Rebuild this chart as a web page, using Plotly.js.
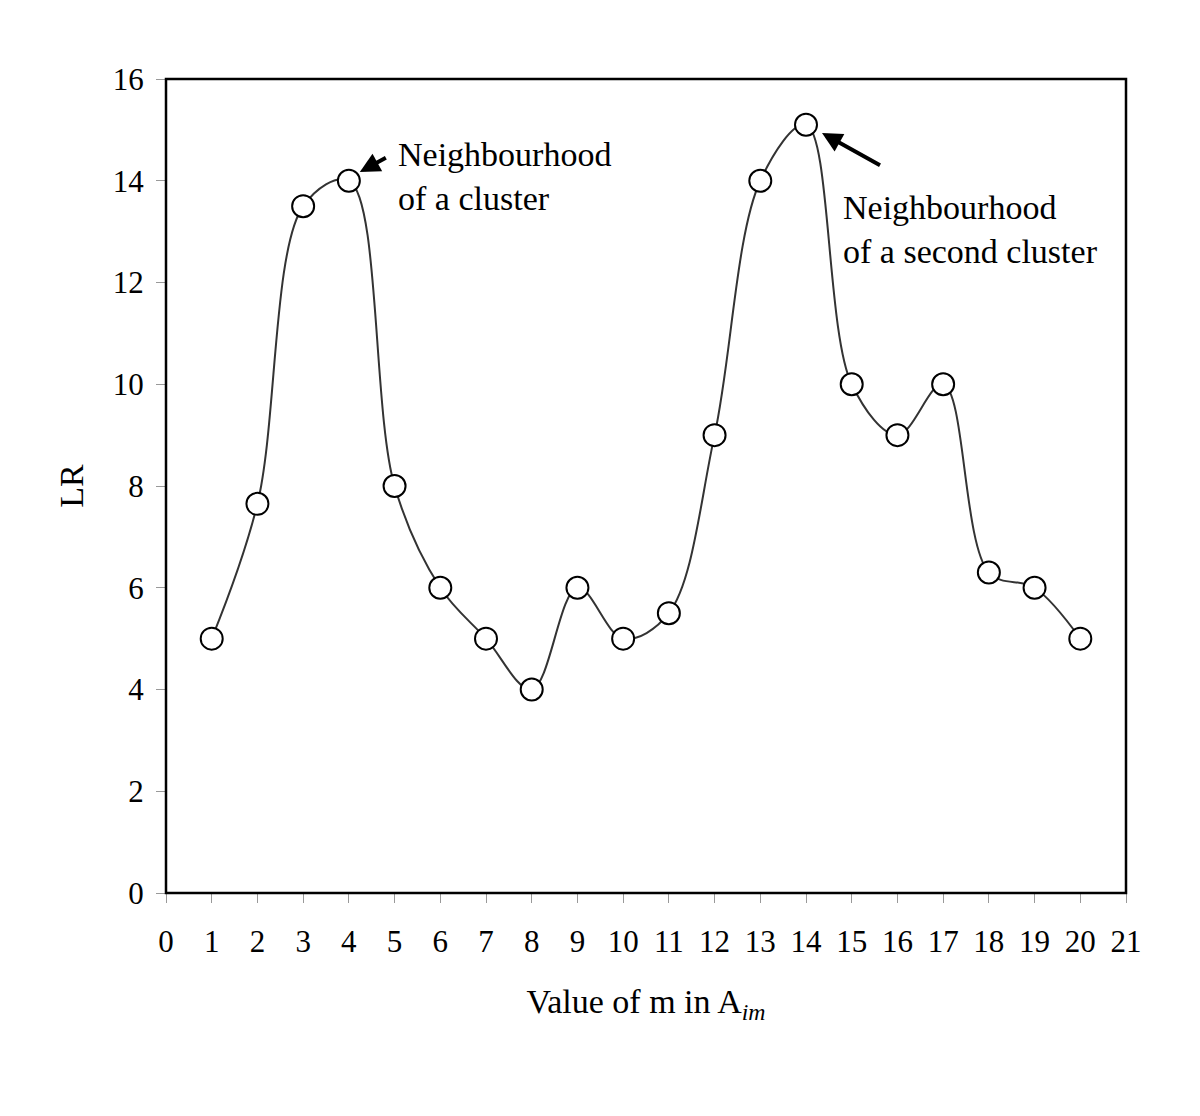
<!DOCTYPE html>
<html>
<head>
<meta charset="utf-8">
<script src="https://cdn.plot.ly/plotly-3.0.1.min.js"></script>
<style>
	html, body { margin: 0; padding: 0; background: #fff; }
	#chart { width: 1200px; height: 1116px; }
</style>
</head>
<body>
<div id="chart"></div>
<script>
(function () {

	'use strict';

	// values of m and the LR
	const mValues = [1, 2, 3, 4, 5, 6, 7, 8, 9, 10, 11, 12, 13, 14, 15, 16, 17, 18, 19, 20];
	const lrValues = [5, 7.65, 13.5, 14, 8, 6, 5, 4, 6, 5, 5.5, 9, 14, 15.1, 10, 9, 10, 6.3, 6, 5];

	const noteFirst = 'Neighbourhood<br>of a cluster';
	const noteSecond = 'Neighbourhood<br>of a second cluster';

	const serif = '"Liberation Serif", "Times New Roman", serif';

	const data = [{
		x: mValues,
		y: lrValues,
		type: 'scatter',
		mode: 'lines+markers',
		line: { shape: 'spline', smoothing: 1, color: '#333', width: 2 },
		marker: { symbol: 'circle', size: 22, color: '#fff', line: { color: '#000', width: 2 } },
		hoverinfo: 'x+y'
	}];

	const axisBase = {
		showgrid: false,
		zeroline: false,
		showline: false,
		ticks: 'outside',
		ticklen: 9,
		tickwidth: 1,
		tickcolor: '#999',
		tickfont: { family: serif, size: 31, color: '#000' },
		fixedrange: true
	};

	const layout = {
		width: 1200,
		height: 1116,
		paper_bgcolor: '#fff',
		plot_bgcolor: '#fff',
		showlegend: false,
		margin: { l: 166, r: 74, t: 79, b: 223 },
		font: { family: serif, color: '#000' },
		xaxis: Object.assign({}, axisBase, {
			range: [0, 21],
			dtick: 1,
			tick0: 0,
			ticklabelstandoff: 12,
			title: { text: 'Value of m in A<sub><i>im</i></sub>', font: { family: serif, size: 34 }, standoff: 30 }
		}),
		yaxis: Object.assign({}, axisBase, {
			range: [0, 16],
			dtick: 2,
			tick0: 0,
			ticklabelstandoff: 6,
			title: { text: 'LR', font: { family: serif, size: 34 }, standoff: 18 }
		}),
		shapes: [{
			type: 'rect', xref: 'paper', yref: 'paper',
			x0: 0, x1: 1, y0: 0, y1: 1,
			line: { color: '#000', width: 2.5 }
		}],
		annotations: [
			{
				x: 4.24, y: 14.17, xref: 'x', yref: 'y',
				ax: 29, ay: -16, axref: 'pixel', ayref: 'pixel',
				text: ' ', showarrow: true,
				arrowhead: 2, arrowsize: 1, arrowwidth: 4, arrowcolor: '#000'
			},
			{
				x: 14.35, y: 14.94, xref: 'x', yref: 'y',
				ax: 61, ay: 34, axref: 'pixel', ayref: 'pixel',
				text: ' ', showarrow: true,
				arrowhead: 2, arrowsize: 1, arrowwidth: 4, arrowcolor: '#000'
			},
			{
				x: 5.03, y: 14.09, xref: 'x', yref: 'y',
				text: noteFirst, showarrow: false,
				xanchor: 'left', yanchor: 'middle', align: 'left',
				font: { family: serif, size: 34, color: '#000' }
			},
			{
				x: 14.77, y: 13.04, xref: 'x', yref: 'y',
				text: noteSecond, showarrow: false,
				xanchor: 'left', yanchor: 'middle', align: 'left',
				font: { family: serif, size: 34, color: '#000' }
			}
		]
	};

	Plotly.newPlot('chart', data, layout, { displayModeBar: false, staticPlot: true });

})();
</script>
</body>
</html>
